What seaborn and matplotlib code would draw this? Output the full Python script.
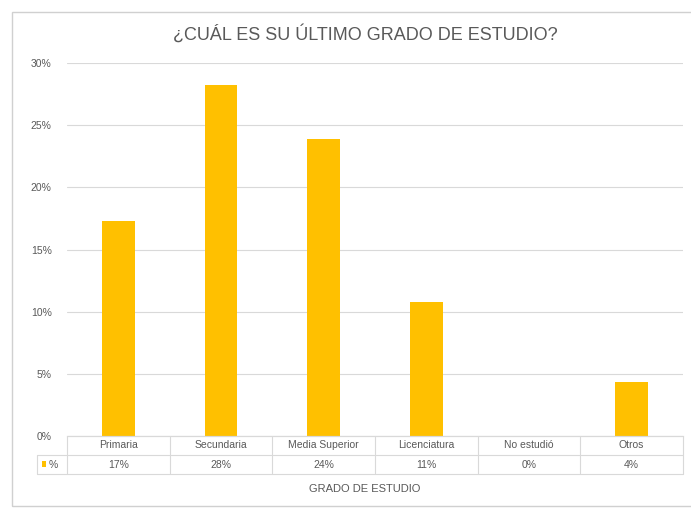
import matplotlib
matplotlib.use("Agg")
import matplotlib.pyplot as plt
import seaborn as sns
import pandas as pd
from matplotlib.patches import Rectangle
from matplotlib.lines import Line2D

categories = ["Primaria", "Secundaria", "Media Superior", "Licenciatura", "No estudió", "Otros"]
values = [17.3, 28.2, 23.9, 10.8, 0.0, 4.35]
table_labels = ["17%", "28%", "24%", "11%", "0%", "4%"]
yticks = [0, 5, 10, 15, 20, 25, 30]
title = "¿CUÁL ES SU ÚLTIMO GRADO DE ESTUDIO?"
xlabel = "GRADO DE ESTUDIO"
series_name = "%"

BAR = "#FFC000"
TXT = "#595959"
GRID = "#D9D9D9"

sns.set_style("white")
plt.rcParams["font.family"] = ["Liberation Sans", "DejaVu Sans"]

W, H = 691, 508
fig = plt.figure(figsize=(W / 100, H / 100), dpi=100)

def fx(px):
    return px / W

def fy(py):
    return 1 - py / H

# outer chart border (right edge runs off the image, as in the reference)
fig.patches.append(Rectangle((fx(12), fy(506)), fx(700) - fx(12), fy(12) - fy(506),
                             transform=fig.transFigure, fill=False, edgecolor="#D0D0D0", lw=1.0))

left, right, top, bottom = 67, 683, 63, 436
ax = fig.add_axes([fx(left), fy(bottom), fx(right) - fx(left), fy(top) - fy(bottom)])

df = pd.DataFrame({"cat": categories, "val": values})
sns.barplot(data=df, x="cat", y="val", color=BAR, width=0.32, ax=ax, saturation=1)
for p in ax.patches:
    p.set_edgecolor("none")

ax.set_xlim(-0.5, len(categories) - 0.5)
ax.set_ylim(0, 30)
ax.set_yticks(yticks)
ax.set_yticklabels([f"{v}%" for v in yticks], color=TXT, fontsize=7.5)
ax.tick_params(axis="y", length=0, pad=11)
ax.set_xticks([])
ax.set_xlabel("")
ax.set_ylabel("")
ax.yaxis.grid(True, color=GRID, lw=0.8)
ax.set_axisbelow(True)
for s in ["top", "right", "left"]:
    ax.spines[s].set_visible(False)
ax.spines["bottom"].set_color(GRID)
ax.spines["bottom"].set_linewidth(0.8)

# title
fig.text(fx(365), fy(34), title, ha="center", va="center", fontsize=13, color=TXT)

# data table
t_top, t_mid, t_bot, t_left = 436, 455, 474, 37
tr = fig.transFigure
ncat = len(categories)
cw = (right - left) / ncat
lines = []
lines.append(Line2D([fx(left), fx(right)], [fy(t_top), fy(t_top)]))
lines.append(Line2D([fx(t_left), fx(right)], [fy(t_mid), fy(t_mid)]))
lines.append(Line2D([fx(t_left), fx(right)], [fy(t_bot), fy(t_bot)]))
lines.append(Line2D([fx(t_left), fx(t_left)], [fy(t_mid), fy(t_bot)]))
for i in range(ncat + 1):
    x = left + i * cw
    lines.append(Line2D([fx(x), fx(x)], [fy(t_top), fy(t_bot)]))
for ln in lines:
    ln.set_transform(tr)
    ln.set_color(GRID)
    ln.set_linewidth(0.8)
    fig.lines.append(ln)

for i, (c, lab) in enumerate(zip(categories, table_labels)):
    cx = left + (i + 0.5) * cw
    fig.text(fx(cx), fy((t_top + t_mid) / 2), c, ha="center", va="center", fontsize=7.5, color=TXT)
    fig.text(fx(cx), fy((t_mid + t_bot) / 2), lab, ha="center", va="center", fontsize=7.5, color=TXT)

# legend key in table
fig.patches.append(Rectangle((fx(42), fy(467)), fx(4), fy(461) - fy(467), transform=tr,
                             facecolor=BAR, edgecolor="none"))
fig.text(fx(49), fy((t_mid + t_bot) / 2), series_name, ha="left", va="center", fontsize=7.5, color=TXT)

fig.text(fx(365), fy(489), xlabel, ha="center", va="center", fontsize=8, color=TXT)

fig.savefig("out.png", dpi=100)
